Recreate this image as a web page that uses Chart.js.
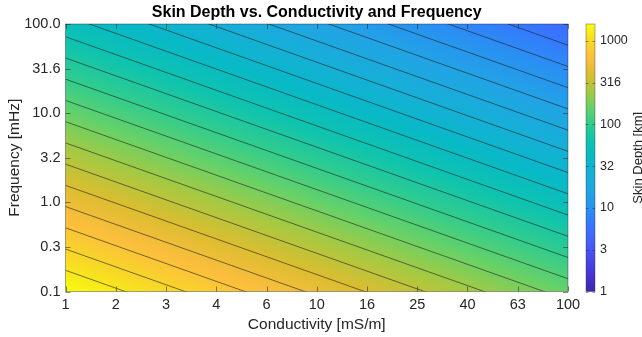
<!DOCTYPE html>
<html>
<head>
<meta charset="utf-8">
<script src="https://cdn.jsdelivr.net/npm/chart.js@4/dist/chart.umd.min.js"></script>
<style>
html,body{margin:0;padding:0;background:#fff;overflow:hidden}
#wrap{position:relative;width:642px;height:337px}
</style>
</head>
<body>
<div id="wrap"><canvas id="c" width="642" height="337"></canvas></div>
<script>
// ---- data ----
const conductivity = [1, 1.585, 2.512, 3.981, 6.310, 10, 15.85, 25.12, 39.81, 63.10, 100]; // mS/m
const frequency = [0.1, 0.3162, 1, 3.162, 10, 31.62, 100]; // mHz
// skin depth (km) at each frequency (row) x conductivity (column)
const skinDepthKm = [
  [1591.5, 1264.2, 1004.2, 797.64, 633.59, 503.27, 399.77, 317.55, 252.23, 200.36, 159.15],
  [894.97, 710.90, 564.68, 448.54, 356.29, 283.01, 224.81, 178.57, 141.84, 112.67, 89.50],
  [503.27, 399.77, 317.55, 252.23, 200.36, 159.15, 126.42, 100.42, 79.76, 63.36, 50.33],
  [283.01, 224.81, 178.57, 141.84, 112.67, 89.50, 71.09, 56.47, 44.85, 35.63, 28.30],
  [159.15, 126.42, 100.42, 79.76, 63.36, 50.33, 39.98, 31.76, 25.22, 20.04, 15.92],
  [89.50, 71.09, 56.47, 44.85, 35.63, 28.30, 22.48, 17.86, 14.18, 11.27, 8.95],
  [50.33, 39.98, 31.76, 25.22, 20.04, 15.92, 12.64, 10.04, 7.98, 6.34, 5.03]
];
const contourLevelsKm = [6.620, 8.709, 11.456, 15.066, 19.82, 26.07, 34.29, 45.11, 59.33, 78.05,
  102.6, 135.0, 177.6, 233.7, 307.3, 404.3, 531.7, 699.4, 920.0, 1210.2];
const xTickLabels = ['1', '2', '3', '4', '6', '10', '16', '25', '40', '63', '100'];
const yTickLabels = ['0.1', '0.3', '1.0', '3.2', '10.0', '31.6', '100.0'];
const colorbarTicks = [1, 3.162, 10, 31.62, 100, 316.2, 1000];
const colorbarTickLabels = ['1', '3', '10', '32', '100', '316', '1000'];
const colorLimitsKm = [1, 1591.5];

// ---- styling ----
const FONT = "'Liberation Sans', Arial, Helvetica, sans-serif";
const TXT = '#262626';
const parula = [
  [0.0000, 62, 38, 168], [0.0625, 69, 53, 210], [0.1250, 72, 73, 237], [0.1875, 70, 96, 252],
  [0.2500, 54, 119, 254], [0.3125, 41, 146, 241], [0.3750, 33, 164, 228], [0.4375, 22, 175, 215],
  [0.5000, 8, 185, 198], [0.5625, 14, 195, 175], [0.6250, 48, 204, 142], [0.6875, 102, 209, 104],
  [0.7500, 166, 201, 66], [0.8125, 219, 189, 48], [0.8750, 252, 190, 61], [0.9375, 247, 217, 38],
  [1.0000, 249, 251, 14]
];
function addStops(g) {
  parula.forEach(s => g.addColorStop(s[0], `rgb(${s[1]},${s[2]},${s[3]})`));
}

// ---- least-squares plane of log(depth) over log(conductivity), log(frequency) ----
const LX = conductivity.map(Math.log10), LY = frequency.map(Math.log10);
const fit = (() => {
  let pts = [];
  skinDepthKm.forEach((row, i) => row.forEach((v, j) => pts.push([LX[j], LY[i], Math.log10(v)])));
  const n = pts.length;
  const mx = pts.reduce((s, p) => s + p[0], 0) / n;
  const my = pts.reduce((s, p) => s + p[1], 0) / n;
  const mz = pts.reduce((s, p) => s + p[2], 0) / n;
  let sxx = 0, syy = 0, sxz = 0, syz = 0;
  pts.forEach(p => { sxx += (p[0]-mx)**2; syy += (p[1]-my)**2; sxz += (p[0]-mx)*(p[2]-mz); syz += (p[1]-my)*(p[2]-mz); });
  const b = sxz / sxx, c = syz / syy;
  return { a: mz - b*mx - c*my, b, c };
})();

const xMin = conductivity[0], xMax = conductivity[conductivity.length-1];
const yMin = frequency[0], yMax = frequency[frequency.length-1];

const contourSets = contourLevelsKm.map(L => ({
  type: 'line',
  data: [xMin, xMax].map(s => ({ x: s, y: Math.pow(10, (Math.log10(L) - fit.a - fit.b*Math.log10(s)) / fit.c) })),
  borderColor: 'rgba(30,30,30,0.75)',
  borderWidth: 0.8,
  pointRadius: 0,
  fill: false,
  tension: 0,
  clip: 0
}));

const fieldPlugin = {
  id: 'field',
  beforeDatasetsDraw(chart) {
    const { ctx, chartArea: ca, scales: { x, y } } = chart;
    const px0 = x.getPixelForValue(xMin), px1 = x.getPixelForValue(xMax);
    const py0 = y.getPixelForValue(yMin), py1 = y.getPixelForValue(yMax);
    const dXdp = (Math.log10(xMax) - Math.log10(xMin)) / (px1 - px0);
    const dYdp = (Math.log10(yMax) - Math.log10(yMin)) / (py1 - py0);
    const cmin = Math.log10(colorLimitsKm[0]), cmax = Math.log10(colorLimitsKm[1]);
    const gx = fit.b * dXdp / (cmax - cmin), gy = fit.c * dYdp / (cmax - cmin);
    const t0 = (fit.a + fit.b*Math.log10(xMin) + fit.c*Math.log10(yMin) - cmin) / (cmax - cmin);
    const g2 = gx*gx + gy*gy;
    const grad = ctx.createLinearGradient(px0 - t0*gx/g2, py0 - t0*gy/g2, px0 + (1-t0)*gx/g2, py0 + (1-t0)*gy/g2);
    addStops(grad);
    ctx.save();
    ctx.fillStyle = grad;
    ctx.fillRect(ca.left, ca.top, ca.right - ca.left, ca.bottom - ca.top);
    ctx.restore();
  },
  afterDatasetsDraw(chart) {
    const { ctx, chartArea: ca, scales: { x, y } } = chart;
    ctx.save();
    ctx.strokeStyle = 'rgba(38,38,38,0.55)';
    ctx.lineWidth = 1;
    ctx.beginPath();
    conductivity.forEach(v => {
      const p = Math.round(x.getPixelForValue(v)) + 0.5;
      ctx.moveTo(p, ca.bottom); ctx.lineTo(p, ca.bottom - 5);
      ctx.moveTo(p, ca.top); ctx.lineTo(p, ca.top + 5);
    });
    frequency.forEach(v => {
      const p = Math.round(y.getPixelForValue(v)) + 0.5;
      ctx.moveTo(ca.left, p); ctx.lineTo(ca.left + 5, p);
      ctx.moveTo(ca.right, p); ctx.lineTo(ca.right - 5, p);
    });
    ctx.stroke();
    ctx.strokeStyle = 'rgba(38,38,38,0.4)';
    ctx.strokeRect(ca.left, ca.top, ca.right - ca.left, ca.bottom - ca.top);
    ctx.restore();
  }
};

const colorbarPlugin = {
  id: 'colorbar',
  afterDraw(chart) {
    const { ctx, chartArea: ca, scales: { cb } } = chart;
    const top = cb.getPixelForValue(colorLimitsKm[1]);
    const bot = cb.getPixelForValue(colorLimitsKm[0]);
    const left = ca.right + 18, w = 9;
    ctx.save();
    const g = ctx.createLinearGradient(0, bot, 0, top);
    addStops(g);
    ctx.fillStyle = g;
    ctx.fillRect(left, top, w, bot - top);
    ctx.strokeStyle = 'rgba(38,38,38,0.45)';
    ctx.lineWidth = 1;
    ctx.beginPath();
    colorbarTicks.forEach(v => {
      const p = Math.round(cb.getPixelForValue(v)) + 0.5;
      ctx.moveTo(left + w, p); ctx.lineTo(left + w - 2.5, p);
      ctx.moveTo(left, p); ctx.lineTo(left + 2.5, p);
    });
    ctx.stroke();
    ctx.strokeStyle = 'rgba(38,38,38,0.35)';
    ctx.strokeRect(left, top, w, bot - top);
    ctx.translate(638, (top + bot) / 2);
    ctx.rotate(-Math.PI / 2);
    ctx.fillStyle = TXT;
    ctx.font = `13px ${FONT}`;
    ctx.textAlign = 'center';
    ctx.textBaseline = 'middle';
    ctx.fillText('Skin Depth [km]', 0, 0);
    ctx.restore();
  }
};

new Chart(document.getElementById('c'), {
  type: 'scatter',
  data: { datasets: contourSets },
  options: {
    responsive: false,
    animation: false,
    devicePixelRatio: 1,
    layout: { padding: 0 },
    plugins: {
      legend: { display: false },
      tooltip: { enabled: false },
      title: {
        display: true,
        text: 'Skin Depth vs. Conductivity and Frequency',
        color: '#000',
        font: { size: 16, weight: 'bold', family: FONT },
        padding: { top: 2.5, bottom: 2.3 },
        fullSize: false
      }
    },
    scales: {
      x: {
        type: 'logarithmic', position: 'bottom', min: xMin, max: xMax,
        afterBuildTicks: s => { s.ticks = conductivity.map(v => ({ value: v })); },
        afterFit: s => { s.height = 45.5; },
        ticks: { autoSkip: false, maxRotation: 0, minRotation: 0, padding: 5, color: TXT,
          font: { size: 14.5, family: FONT }, callback: (v, i) => xTickLabels[i] },
        grid: { display: false, drawTicks: false },
        border: { display: false },
        title: { display: true, text: 'Conductivity [mS/m]', color: TXT, font: { size: 15.5, family: FONT }, padding: { top: 0, bottom: 3 } }
      },
      y: {
        type: 'logarithmic', position: 'left', min: yMin, max: yMax,
        afterBuildTicks: s => { s.ticks = frequency.map(v => ({ value: v })); },
        afterFit: s => { s.width = 65.5; },
        ticks: { autoSkip: false, padding: 5, color: TXT,
          font: { size: 14.5, family: FONT }, callback: (v, i) => yTickLabels[i] },
        grid: { display: false, drawTicks: false },
        border: { display: false },
        title: { display: true, text: 'Frequency [mHz]', color: TXT, font: { size: 15.5, family: FONT }, padding: { top: 5, bottom: 0 } }
      },
      cb: {
        type: 'logarithmic', axis: 'y', position: 'right', min: colorLimitsKm[0], max: colorLimitsKm[1],
        afterBuildTicks: s => { s.ticks = colorbarTicks.map(v => ({ value: v })); },
        afterFit: s => { s.width = 74; },
        ticks: { autoSkip: false, padding: 4, color: TXT,
          font: { size: 12.5, family: FONT }, callback: (v, i) => colorbarTickLabels[i] },
        grid: { display: false, drawTicks: true, tickLength: 28 },
        border: { display: false }
      }
    }
  },
  plugins: [fieldPlugin, colorbarPlugin]
});
</script>
</body>
</html>
